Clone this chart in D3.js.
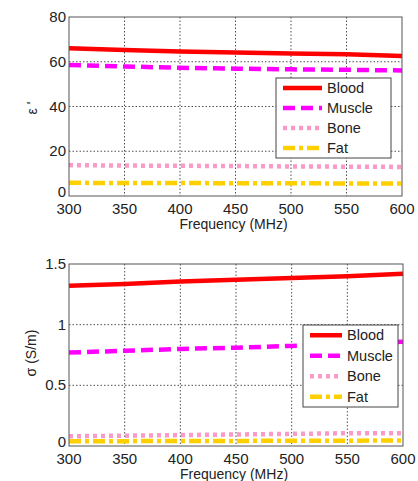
<!DOCTYPE html>
<html>
<head>
<meta charset="utf-8">
<script src="https://cdn.jsdelivr.net/npm/d3@7"></script>
<style>
  body { margin: 0; background: #fff; }
  svg { display: block; font-family: Arial, 'Liberation Sans', sans-serif; }
</style>
</head>
<body>
<div id="chart"></div>
<script>
const freqs = [300, 350, 400, 450, 500, 550, 600]
const xTicks = [300, 350, 400, 450, 500, 550, 600]

// permittivity (top)
const epsBlood = [66, 65.3, 64.6, 64.1, 63.7, 63.3, 62.6]
const epsMuscle = [58.6, 57.9, 57.3, 56.9, 56.6, 56.4, 56.1]
const epsBone = [13.8, 13.6, 13.5, 13.4, 13.2, 13.1, 13.0]
const epsFat = [5.9, 5.8, 5.8, 5.7, 5.7, 5.6, 5.6]
const epsTicks = [0, 20, 40, 60, 80]

// conductivity (bottom)
const sigBlood = [1.32, 1.335, 1.355, 1.37, 1.385, 1.40, 1.42]
const sigMuscle = [0.77, 0.785, 0.80, 0.81, 0.825, 0.84, 0.86]
const sigBone = [0.08, 0.085, 0.09, 0.095, 0.10, 0.105, 0.105]
const sigFat = [0.04, 0.04, 0.042, 0.042, 0.043, 0.044, 0.045]
const sigTicks = [0, 0.5, 1, 1.5]

const tissues = ['Blood', 'Muscle', 'Bone', 'Fat']
const colors = { Blood: '#ff0000', Muscle: '#ff00ff', Bone: '#f99ac8', Fat: '#ffd000' }
const dashes = { Blood: null, Muscle: '12,6', Bone: '4,4', Fat: '12,4,4,4' }

const W = 418, H = 481
const svg = d3.select('#chart').append('svg').attr('width', W).attr('height', H)

function drawPanel(cfg) {
  const { left, right, top, bottom, yDomain, yTicks, series, yLabel, legend, yFmt } = cfg
  const x = d3.scaleLinear().domain([300, 600]).range([left, right])
  const y = d3.scaleLinear().domain(yDomain).range([bottom, top])
  const g = svg.append('g')

  // grid
  g.selectAll('line.vg').data(xTicks.slice(1, -1)).enter().append('line')
    .attr('x1', d => x(d)).attr('x2', d => x(d)).attr('y1', top).attr('y2', bottom)
    .attr('stroke', '#222').attr('stroke-width', 0.8).attr('stroke-dasharray', '1.5,2')
  g.selectAll('line.hg').data(yTicks.slice(1, -1)).enter().append('line')
    .attr('x1', left).attr('x2', right).attr('y1', d => y(d)).attr('y2', d => y(d))
    .attr('stroke', '#222').attr('stroke-width', 0.8).attr('stroke-dasharray', '1.5,2')

  // lines
  const line = d3.line().x((d, i) => x(freqs[i])).y(d => y(d))
  tissues.forEach(t => {
    g.append('path').datum(series[t]).attr('d', line)
      .attr('fill', 'none').attr('stroke', colors[t]).attr('stroke-width', 4.5)
      .attr('stroke-dasharray', dashes[t])
  })

  // frame
  g.append('rect').attr('x', left).attr('y', top)
    .attr('width', right - left).attr('height', bottom - top)
    .attr('fill', 'none').attr('stroke', '#555').attr('stroke-width', 1)

  // tick labels
  g.selectAll('text.xt').data(xTicks).enter().append('text')
    .attr('x', d => x(d)).attr('y', bottom + 18).attr('text-anchor', 'middle')
    .attr('font-size', 15).attr('fill', '#222').text(d => d)
  g.selectAll('text.yt').data(yTicks).enter().append('text')
    .attr('x', left - 3).attr('y', d => y(d) + (d === 0 ? 1 : 5)).attr('text-anchor', 'end')
    .attr('font-size', 15).attr('fill', '#222').text(yFmt)

  g.append('text').attr('x', (left + right) / 2 - 2).attr('y', bottom + 33)
    .attr('text-anchor', 'middle').attr('font-size', 14).attr('fill', '#222')
    .text('Frequency (MHz)')
  g.append('text')
    .attr('transform', `translate(${yLabel.x},${yLabel.y}) rotate(-90)`)
    .attr('text-anchor', 'middle').attr('font-size', 14).attr('fill', '#222')
    .text(yLabel.text)

  // legend
  const lg = g.append('g')
  lg.append('rect').attr('x', legend.x).attr('y', legend.y)
    .attr('width', legend.w).attr('height', legend.h)
    .attr('fill', '#fff').attr('stroke', '#444').attr('stroke-width', 1)
  const step = legend.h / 4
  tissues.forEach((t, i) => {
    const cy = legend.y + step * (i + 0.5)
    lg.append('line').attr('x1', legend.x + legend.sx).attr('x2', legend.x + legend.sx + legend.sw)
      .attr('y1', cy).attr('y2', cy)
      .attr('stroke', colors[t]).attr('stroke-width', 4.5).attr('stroke-dasharray', dashes[t])
    lg.append('text').attr('x', legend.x + legend.sx + legend.sw + 5).attr('y', cy + 5)
      .attr('font-size', 14.5).attr('fill', '#222').text(t)
  })
}

drawPanel({
  left: 69, right: 402, top: 17, bottom: 196,
  yDomain: [0, 80], yTicks: epsTicks, yFmt: d => d,
  series: { Blood: epsBlood, Muscle: epsMuscle, Bone: epsBone, Fat: epsFat },
  yLabel: { x: 37, y: 108, text: "ε '" },
  legend: { x: 276, y: 78, w: 115, h: 80, sx: 7, sw: 39 }
})

drawPanel({
  left: 69, right: 403, top: 264, bottom: 446,
  yDomain: [0, 1.5], yTicks: sigTicks, yFmt: d => d,
  series: { Blood: sigBlood, Muscle: sigMuscle, Bone: sigBone, Fat: sigFat },
  yLabel: { x: 36, y: 353, text: 'σ (S/m)' },
  legend: { x: 303, y: 325, w: 95, h: 82, sx: 7, sw: 32 }
})
</script>
</body>
</html>
